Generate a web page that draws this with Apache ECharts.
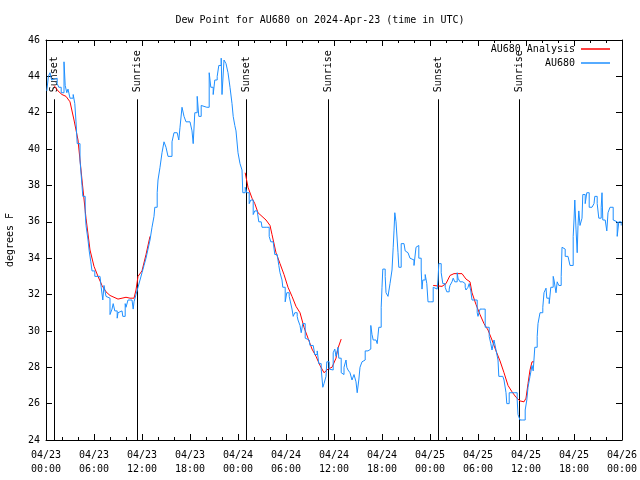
<!DOCTYPE html>
<html>
<head>
<meta charset="utf-8">
<script src="https://cdn.jsdelivr.net/npm/echarts@6/dist/echarts.min.js"></script>
<style>html,body{margin:0;padding:0;background:#fff}#c{width:640px;height:480px}</style>
</head>
<body>
<div id="c"></div>
<script>
// hours since 2024-04-23 00:00 UTC
var xTickLabels = ['04/23\n00:00','04/23\n06:00','04/23\n12:00','04/23\n18:00','04/24\n00:00','04/24\n06:00','04/24\n12:00','04/24\n18:00','04/25\n00:00','04/25\n06:00','04/25\n12:00','04/25\n18:00','04/26\n00:00'];

var obsHours = [0.1,0.3,0.5,0.7,0.9,1.4,1.6,1.9,2.25,2.4,2.6,2.75,3.0,3.4,3.6,3.75,3.9,4.25,4.5,4.6,4.9,5.0,5.25,5.4,5.6,5.75,6.1,6.75,6.9,7.1,7.25,7.5,7.75,8.0,8.25,8.4,8.6,8.9,9.0,9.25,9.5,9.6,9.9,10.0,10.25,10.75,10.9,11.0,11.25,11.5,11.75,12.0,12.25,12.5,12.75,13.0,13.25,13.5,13.6,13.9,14.0,14.25,14.5,14.75,15.0,15.25,15.5,15.75,16.0,16.4,16.6,16.75,17.0,17.25,17.5,18.0,18.25,18.4,18.6,18.9,19.1,19.4,19.6,20.1,20.4,20.6,20.9,21.1,21.4,21.6,21.9,22.0,22.25,22.5,22.75,23.0,23.25,23.4,23.6,23.75,24.0,24.25,24.5,24.6,24.9,25.1,25.4,25.6,25.9,26.1,26.4,26.6,26.9,27.0,27.6,27.9,28.1,28.4,28.6,28.9,29.1,29.25,29.5,29.6,29.9,30.1,30.4,30.5,30.75,30.9,31.1,31.4,31.5,31.75,31.9,32.1,32.4,32.6,32.9,33.0,33.4,33.6,33.9,34.1,34.4,34.6,34.75,35.0,35.1,35.4,35.6,35.9,36.1,36.25,36.5,36.6,36.9,37.1,37.25,37.5,37.6,37.75,38.0,38.25,38.5,38.6,38.75,38.9,39.1,39.25,39.5,39.6,39.9,40.25,40.5,40.6,40.75,40.9,41.25,41.4,41.6,41.9,42.0,42.1,42.4,42.5,42.75,43.0,43.25,43.4,43.5,43.6,43.75,43.9,44.0,44.1,44.4,44.75,44.9,45.0,45.25,45.5,45.75,46.0,46.25,46.4,46.6,46.9,47.0,47.1,47.4,47.6,47.75,48.1,48.4,48.5,48.9,49.0,49.1,49.4,49.6,49.9,50.1,50.4,50.5,50.75,50.9,51.1,51.4,51.5,51.75,52.1,52.4,52.5,52.75,52.9,53.1,53.25,53.6,53.9,54.0,54.25,54.6,54.9,55.1,55.4,55.6,55.75,56.0,56.25,56.5,56.6,57.1,57.25,57.5,57.6,57.9,58.25,58.6,58.9,59.0,59.25,59.6,59.9,60.1,60.25,60.5,60.75,60.9,61.1,61.4,61.5,61.75,62.1,62.25,62.5,62.6,62.9,63.1,63.4,63.5,63.75,63.9,64.1,64.4,64.5,64.75,64.9,65.25,65.5,65.75,65.9,66.0,66.1,66.25,66.4,66.5,66.6,66.75,67.0,67.1,67.4,67.6,67.9,68.25,68.5,68.6,68.9,69.1,69.4,69.5,69.6,69.9,70.1,70.25,70.5,70.75,70.9,71.1,71.4,71.6,71.9];
var obsValues = [43.2,44.0,44.2,43.8,43.9,43.6,43.4,43.1,44.8,43.5,43.1,43.3,42.8,43.0,42.5,41.5,40.3,39.4,38.0,37.4,36.5,35.8,35.0,34.4,33.8,33.3,33.0,33.0,32.4,31.7,32.5,31.9,31.8,30.9,31.2,31.5,31.1,30.7,31.0,31.1,31.1,30.8,31.5,31.3,31.7,31.7,31.2,31.6,32.0,32.4,32.8,33.2,33.6,34.0,34.5,35.0,35.7,36.3,36.8,37.6,38.3,39.0,39.8,40.4,40.1,39.6,39.6,40.4,40.9,40.9,40.5,41.2,42.3,41.8,41.5,41.5,41.0,40.3,42.0,42.9,41.8,42.4,42.3,42.3,44.2,43.4,43.0,43.8,44.0,44.6,45.0,43.0,44.9,44.7,44.2,43.4,42.5,41.8,41.3,41.0,39.8,39.2,38.85,37.6,37.9,37.6,37.0,37.2,36.4,36.6,36.5,36.0,35.9,35.7,35.7,35.2,34.9,35.0,34.2,34.1,33.6,33.2,32.8,32.4,31.6,32.1,31.9,31.7,31.2,30.8,31.0,30.8,30.6,30.3,29.9,30.4,29.6,29.5,29.4,29.2,29.1,28.7,28.9,28.2,27.9,26.9,27.1,27.5,28.3,27.9,27.85,28.8,29.0,28.6,29.1,28.5,27.7,27.6,28.0,28.4,28.0,27.85,27.7,27.3,27.6,27.7,27.2,26.6,27.3,28.0,28.3,28.4,28.9,29.0,29.0,30.3,29.8,29.5,29.5,29.3,30.2,31.3,32.4,33.4,33.0,32.1,31.9,32.6,33.35,34.6,35.5,36.5,36.0,35.0,34.3,33.5,34.8,34.8,34.4,34.3,34.4,34.0,33.9,33.6,34.6,34.7,34.0,33.35,32.3,32.8,33.1,32.6,31.6,31.6,32.4,32.3,32.4,32.8,33.7,33.2,32.6,32.4,32.15,32.3,32.5,32.7,32.9,32.7,33.2,32.9,32.7,32.6,32.4,32.25,32.4,32.6,32.2,31.7,31.7,31.0,30.8,31.2,31.2,30.2,30.2,29.7,29.3,28.95,29.5,28.95,28.4,27.5,27.5,27.3,26.6,26.0,26.6,26.6,26.6,26.2,25.4,25.1,25.1,25.65,26.2,26.9,27.5,28.1,27.8,29.1,29.7,30.4,31.0,31.3,32.1,32.35,31.8,31.5,32.4,33.0,32.8,32.1,32.7,32.5,33.0,34.6,34.5,34.1,34.1,33.6,33.6,35.2,36.1,37.2,35.6,34.3,35.8,36.6,35.8,36.2,37.5,37.0,37.6,36.8,36.9,37.0,37.4,37.0,36.2,36.8,37.6,36.1,36.1,35.5,36.5,36.8,36.8,36.1,36.0,35.2,36.0,35.8];

// analysis: three separate runs (null = gap)
var anaHours = [1.0,1.5,2.0,2.5,3.0,3.5,4.0,4.5,5.0,5.5,6.0,6.5,7.0,7.5,8.0,8.5,9.0,9.5,10.0,10.5,11.0,11.25,11.5,12.0,12.5,13.0,
  13.5,
  24.9,25.25,25.75,26.1,26.5,27.0,27.5,28.0,28.25,28.75,29.25,29.75,30.25,30.75,31.25,31.75,32.25,32.75,33.25,33.75,34.25,34.75,35.25,35.75,36.25,36.5,36.9,
  37.5,
  48.4,49.5,50.0,50.5,51.0,52.0,52.5,53.0,53.25,53.75,54.25,54.75,55.25,55.75,56.25,56.75,57.25,57.75,58.25,58.75,59.25,59.75,60.0,60.25,60.5,60.75,61.0];
var anaValues = [43.5,43.2,43.0,42.9,42.6,41.6,40.5,38.3,36.2,34.45,33.55,33.0,32.5,32.15,31.95,31.85,31.75,31.8,31.85,31.8,31.8,32.25,33.0,33.3,34.2,35.2,
  null,
  38.7,37.9,37.3,37.0,36.5,36.3,36.1,35.8,35.3,34.3,33.7,33.1,32.4,31.9,31.35,31.0,30.2,29.6,29.0,28.6,28.1,27.7,27.9,28.0,28.5,29.05,29.55,
  null,
  32.5,32.45,32.6,33.05,33.15,33.15,32.85,32.7,32.1,31.45,30.9,30.4,30.05,29.5,28.9,28.35,27.7,27.0,26.65,26.35,26.15,26.1,26.3,27.1,27.85,28.3,28.3];

var sunHours = [1.04, 11.33, 25.04, 35.3, 49.04, 59.17];
var sunLabels = ['Sunset','Sunrise','Sunset','Sunrise','Sunset','Sunrise'];
var sunLineTop = 42.74;

var FONT = 'DejaVu Sans Mono';
function pairs(xs, ys){ return xs.map(function(x,i){ return [x, ys[i]]; }); }

var chart = echarts.init(document.getElementById('c'), null, {renderer:'canvas'});
var axisText = {color:'#000', fontFamily: FONT, fontSize: 10};
var axLine = {show: true, onZero: false, lineStyle: {color: '#000', width: 1}};
chart.setOption({
  animation: false,
  backgroundColor: '#fff',
  title: {text: 'Dew Point for AU680 on 2024-Apr-23 (time in UTC)', left: 'center', top: 15, padding: 0,
    textStyle: {fontFamily: FONT, fontSize: 10, fontWeight: 'normal', color: '#000'}},
  legend: [
    {data: [{name:'AU680 Analysis', icon:'rect'}], right: 30, top: 44, padding: 0, align: 'right', itemWidth: 29, itemHeight: 1.5, itemGap: 0,
      textStyle: {fontFamily: FONT, fontSize: 10, color: '#000', padding:[0,1,0,0]}, selectedMode: false},
    {data: [{name:'AU680', icon:'rect'}], right: 30, top: 58, padding: 0, align: 'right', itemWidth: 29, itemHeight: 1.5, itemGap: 0,
      textStyle: {fontFamily: FONT, fontSize: 10, color: '#000', padding:[0,1,0,0]}, selectedMode: false}
  ],
  grid: {left: 46, right: 18, top: 40, bottom: 40, containLabel: false, outerBoundsMode: 'none', show: false},
  xAxis: [
    {type: 'value', min: 0, max: 72, interval: 6, position: 'bottom',
     axisLine: axLine,
     axisTick: {show: true, inside: true, length: 6, lineStyle: {color: '#000'}},
     minorTick: {show: true, splitNumber: 3, length: 3, lineStyle: {color: '#000'}},
     splitLine: {show: false},
     axisLabel: Object.assign({margin: 8, lineHeight: 14, formatter: function(v){ return xTickLabels[Math.round(v/6)]; }}, axisText)},
    {type: 'value', min: 0, max: 72, interval: 6, position: 'top',
     axisLine: axLine,
     axisTick: {show: true, inside: true, length: 6, lineStyle: {color: '#000'}},
     minorTick: {show: true, splitNumber: 3, length: 3, lineStyle: {color: '#000'}},
     splitLine: {show: false}, axisLabel: {show: false}}
  ],
  yAxis: [
    {type: 'value', min: 24, max: 46, interval: 2, position: 'left',
     name: 'degrees F', nameLocation: 'middle', nameGap: 31, nameRotate: 90,
     nameTextStyle: {fontFamily: FONT, fontSize: 10, color: '#000'},
     axisLine: axLine,
     axisTick: {show: true, inside: true, length: 6, lineStyle: {color: '#000'}},
     splitLine: {show: false},
     axisLabel: Object.assign({margin: 6}, axisText)},
    {type: 'value', min: 24, max: 46, interval: 2, position: 'right',
     axisLine: axLine,
     axisTick: {show: true, inside: true, length: 6, lineStyle: {color: '#000'}},
     splitLine: {show: false}, axisLabel: {show: false}}
  ],
  series: [
    {type: 'custom', name: 'sun', xAxisIndex: 0, yAxisIndex: 0, silent: true, clip: false,
     data: sunHours.map(function(h, i){ return [h, i]; }),
     renderItem: function(params, api){
       var h = api.value(0), idx = api.value(1);
       var top = api.coord([h, sunLineTop]);
       var bot = api.coord([h, 24]);
       var x = Math.round(top[0]) + 0.5;
       return {type: 'group', children: [
         {type: 'line', shape: {x1: x, y1: top[1], x2: x, y2: bot[1]}, style: {stroke: '#000', lineWidth: 1}},
         {type: 'text', x: x, y: top[1] - 7, rotation: Math.PI/2,
          style: {text: sunLabels[idx], fontFamily: FONT, fontSize: 10, fill: '#000', align: 'left', verticalAlign: 'middle'}}
       ]};
     }},
    {type: 'line', name: 'AU680 Analysis', data: pairs(anaHours, anaValues), showSymbol: false, connectNulls: false,
     color: '#ff0000', lineStyle: {color: '#ff0000', width: 1}},
    {type: 'line', name: 'AU680', data: pairs(obsHours, obsValues), step: 'end', showSymbol: false,
     color: '#1e8fff', lineStyle: {color: '#1e8fff', width: 1}}
  ]
});
</script>
</body>
</html>
